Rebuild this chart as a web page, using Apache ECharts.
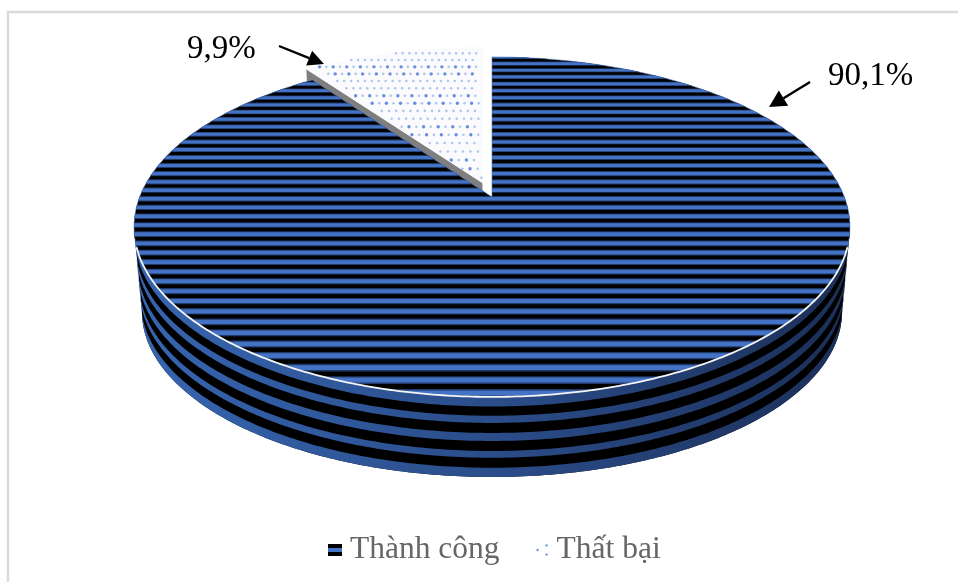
<!DOCTYPE html>
<html>
<head>
<meta charset="utf-8">
<script src="https://cdn.jsdelivr.net/npm/echarts@6/dist/echarts.min.js"></script>
<style>
  html, body { margin: 0; padding: 0; background: #fff; }
  #chart { width: 958px; height: 582px; }
</style>
</head>
<body>
<div id="chart"></div>
<script>
// Outcome shares in percent
const categories = ['Thành công', 'Thất bại'];
const shares = [90.1, 9.9];

const total = shares.reduce((a, b) => a + b, 0);

// Perspective view of the disc: the unit circle (u, v) is projected onto the page,
// t runs from the top face (0) to the bottom face (1).
const VIEW = { cx: 492, y0: 197, R: 352.4, A: 164.7, k: -0.176, depthY0: 283, shrinkX: 350 / 358, shrinkY: 165 / 170 };
function project(u, v, t) {
  const w = 1 + VIEW.k * v;
  const sx = 1 + (VIEW.shrinkX - 1) * t;
  const sy = 1 + (VIEW.shrinkY - 1) * t;
  const y0 = VIEW.y0 + (VIEW.depthY0 - VIEW.y0) * t;
  return [VIEW.cx + VIEW.R * sx * u / w, y0 + VIEW.A * sy * v / w];
}

// Sector outline, angles measured clockwise from 12 o'clock as fractions of a turn
function sectorPoints(fromFrac, toFrac, du, dv) {
  const pts = [project(du, dv, 0)];
  const steps = 160;
  for (let i = 0; i <= steps; i++) {
    const a = 2 * Math.PI * (fromFrac + (toFrac - fromFrac) * i / steps);
    pts.push(project(Math.sin(a) + du, -Math.cos(a) + dv, 0));
  }
  return pts;
}

// Front arc of the rim at depth t, left to right
function rimArc(t, vStart) {
  const pts = [];
  const a0 = Math.asin(vStart);
  const steps = 220;
  for (let i = 0; i <= steps; i++) {
    const a = a0 + (Math.PI - 2 * a0) * i / steps;
    pts.push(project(-Math.cos(a), Math.sin(a), t));
  }
  return pts;
}

// Stripe spacing of the top-face texture grows toward the viewer: [page y, period]
const STRIPE_PERIODS = [[57, 6.5], [150, 7.8], [226, 9], [300, 10], [380, 12.5], [400, 13]];
function stripePeriod(y) {
  for (let i = 1; i < STRIPE_PERIODS.length; i++) {
    const a = STRIPE_PERIODS[i - 1], b = STRIPE_PERIODS[i];
    if (y <= b[0]) return a[1] + (b[1] - a[1]) * Math.max(0, y - a[0]) / (b[0] - a[0]);
  }
  return 13;
}

const WALL_BLUE_BANDS = [[0, 0.12], [0.235, 0.325], [0.45, 0.55], [0.675, 0.76], [0.885, 1]];
const BLUE = '#4472c4';
const wallBlue = {
  type: 'linear', x: 134, y: 0, x2: 850, y2: 0, global: true,
  colorStops: [
    { offset: 0, color: '#3665b0' },
    { offset: 0.5, color: '#2b4d8a' },
    { offset: 1, color: '#1b2f58' }
  ]
};

function renderSuccess(params, api) {
  const frac = api.value(0) / total;
  const children = [];

  // Side wall: black base with curved blue bands
  const vEdge = -VIEW.k;
  children.push({
    type: 'polygon',
    shape: { points: rimArc(0, vEdge).concat(rimArc(1, vEdge).reverse()) },
    style: { fill: '#000' }
  });
  WALL_BLUE_BANDS.forEach(b => {
    children.push({
      type: 'polygon',
      shape: { points: rimArc(b[0], vEdge).concat(rimArc(b[1], vEdge).reverse()) },
      style: { fill: wallBlue }
    });
  });

  // Top face: black base with horizontal blue stripes that widen toward the viewer
  const top = sectorPoints(0, frac, 0, 0);
  children.push({ type: 'polygon', shape: { points: top }, style: { fill: '#000', stroke: '#5f83c8', lineWidth: 0.6 } });
  const stripes = [];
  const addStripe = (y) => {
    const p = stripePeriod(y);
    stripes.push({ type: 'rect', shape: { x: 100, y: y - 0.31 * p, width: 800, height: 0.62 * p }, style: { fill: '#203a68' } });
    stripes.push({ type: 'rect', shape: { x: 100, y: y - 0.2 * p, width: 800, height: 0.4 * p }, style: { fill: BLUE } });
  };
  for (let y = 380; y > 50; y -= stripePeriod(y - 4)) addStripe(y);
  addStripe(393);
  children.push({ type: 'group', clipPath: { type: 'polygon', shape: { points: top } }, children: stripes });

  // White seam between top face and wall
  children.push({
    type: 'polyline',
    shape: { points: rimArc(0, 0.29) },
    style: { stroke: '#f4f4f4', lineWidth: 1.8, fill: null }
  });
  return { type: 'group', children };
}

function renderFailure(params, api) {
  const frac = api.value(0) / total;
  const start = 1 - frac;
  const mid = start + frac / 2;
  const shift = 0.09;
  const du = Math.sin(2 * Math.PI * mid) * shift;
  const dv = -Math.cos(2 * Math.PI * mid) * shift;
  const startA = 2 * Math.PI * start;
  const children = [];

  // Cut face of the pulled-out slice, mostly hidden behind the main sector
  const tipU = Math.sin(startA) + du, tipV = -Math.cos(startA) + dv;
  children.push({
    type: 'polygon',
    shape: { points: [project(du, dv, 0), project(tipU, tipV, 0), project(tipU, tipV, 1), project(du, dv, 1)] },
    style: { fill: '#7f7f7f' }
  });

  // Top face with dotted texture
  const top = sectorPoints(start, 1, du, dv);
  children.push({ type: 'polygon', shape: { points: top }, style: { fill: '#fbfbfd' } });
  const dots = [];
  const stepU = 0.0224, stepV = 0.057;
  for (let i = 0; i < 24; i++) {
    for (let j = 0; j < 34; j++) {
      const lu = -0.72 + j * stepU + (i % 2 ? stepU / 2 : 0);
      const lv = -1.06 + i * stepV;
      if (lu * lu + lv * lv > 0.985) continue;
      const a = Math.atan2(lu, -lv);
      const turn = a < 0 ? a + 2 * Math.PI : a;
      if (turn < startA + 0.025 || turn > 2 * Math.PI - 0.025) continue;
      const p = project(lu + du, lv + dv, 0);
      const strong = (i % 4 < 2) && (j % 2 === 0);
      dots.push({
        type: 'circle',
        shape: { cx: p[0], cy: p[1], r: strong ? 1.7 : 1.3 },
        style: { fill: '#4a7bd8', opacity: strong ? 0.85 : 0.42 }
      });
    }
  }
  children.push({ type: 'group', children: dots });
  return { type: 'group', children };
}

// Percent labels use a decimal comma
function percentText(value) { return String(value).replace('.', ',') + '%'; }

// Straight arrow with a solid head
function arrow(from, tip, headLen, headHalf) {
  const dx = tip[0] - from[0], dy = tip[1] - from[1];
  const len = Math.hypot(dx, dy);
  const ux = dx / len, uy = dy / len;
  const bx = tip[0] - ux * headLen, by = tip[1] - uy * headLen;
  return [
    { type: 'polyline', z: 10, shape: { points: [from, [bx, by]] }, style: { stroke: '#000', lineWidth: 2.4, fill: null } },
    { type: 'polygon', z: 10, shape: { points: [tip, [bx - uy * headHalf, by + ux * headHalf], [bx + uy * headHalf, by - ux * headHalf]] }, style: { fill: '#000' } }
  ];
}

const successIcon = 'image://data:image/svg+xml;utf8,' + encodeURIComponent(
  '<svg xmlns="http://www.w3.org/2000/svg" width="14" height="12"><rect width="14" height="12" fill="#000"/><rect y="4" width="14" height="4" fill="#4472c4"/></svg>');
const failureIcon = 'image://data:image/svg+xml;utf8,' + encodeURIComponent(
  '<svg xmlns="http://www.w3.org/2000/svg" width="14" height="12"><circle cx="3" cy="6" r="1.2" fill="#6f94dc"/><circle cx="12" cy="1.4" r="1.2" fill="#6f94dc"/><circle cx="12" cy="10.6" r="1.2" fill="#6f94dc"/></svg>');

const chart = echarts.init(document.getElementById('chart'), null, { renderer: 'canvas' });
chart.setOption({
  animation: false,
  backgroundColor: '#fff',
  legend: {
    left: 328,
    top: 534,
    padding: 0,
    itemWidth: 14,
    itemHeight: 12,
    itemGap: 35,
    selectedMode: false,
    textStyle: { fontFamily: 'Liberation Serif', fontSize: 31.5, color: '#666', padding: [0, 0, 0, 3] },
    data: [
      { name: categories[0], icon: successIcon },
      { name: categories[1], icon: failureIcon }
    ]
  },
  graphic: [
    { type: 'polyline', shape: { points: [[8, 582], [8, 12], [958, 12]] }, style: { stroke: '#d9d9d9', lineWidth: 2.4, fill: null } },
    { type: 'text', z: 10, x: 187, y: 49, style: { text: percentText(shares[1]), font: '33px "Liberation Serif"', fill: '#000', verticalAlign: 'middle' } },
    { type: 'text', z: 10, x: 828, y: 76, style: { text: percentText(shares[0]), font: '33px "Liberation Serif"', fill: '#000', verticalAlign: 'middle' } },
    ...arrow([279, 46], [324, 64], 16, 8),
    ...arrow([810, 82], [769, 107], 17, 9)
  ],
  series: [
    { type: 'custom', name: categories[1], coordinateSystem: 'none', renderItem: renderFailure, data: [[shares[1]]], silent: true },
    { type: 'custom', name: categories[0], coordinateSystem: 'none', renderItem: renderSuccess, data: [[shares[0]]], silent: true }
  ]
});
</script>
</body>
</html>
